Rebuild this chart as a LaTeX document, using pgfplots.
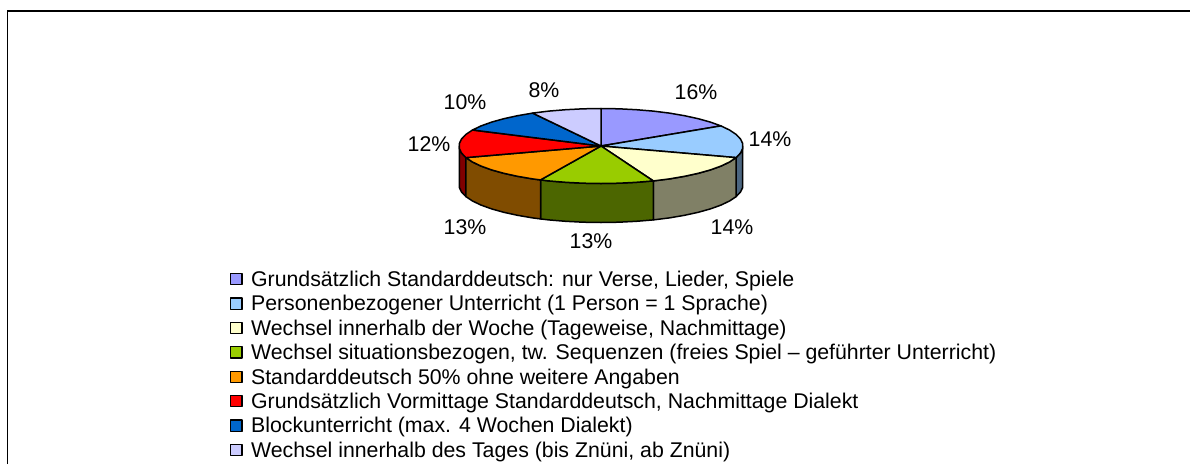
\documentclass[border=0pt]{standalone}
\usepackage{pgfplots}
\usepackage{fontspec}
\setmainfont{Liberation Sans}
\pgfplotsset{compat=1.18}
\definecolor{s1}{HTML}{9999FF}
\definecolor{s2}{HTML}{99CCFF}
\definecolor{s3}{HTML}{FFFFCC}
\definecolor{s4}{HTML}{99CC00}
\definecolor{s5}{HTML}{FF9900}
\definecolor{s6}{HTML}{FF0000}
\definecolor{s7}{HTML}{0066CC}
\definecolor{s8}{HTML}{CCCCFF}
\definecolor{w2}{HTML}{4C6680}
\definecolor{w3}{HTML}{808066}
\definecolor{w4}{HTML}{4C6600}
\definecolor{w5}{HTML}{804C00}
\definecolor{w6}{HTML}{800000}
\pgfplotsset{
  wall/.style={draw=black,line width=1.5pt,line join=round,forget plot},
  pieslice/.style={draw=black,line width=1.5pt,line join=round,fill=#1,
    legend image code/.code={\draw[black,line width=1.2pt,fill=#1] (0pt,-3.6pt) rectangle (11.4pt,7.6pt);}},
}
\begin{document}
\begin{tikzpicture}
\begin{axis}[
  scale only axis,width=1190pt,height=464pt,
  xmin=0,xmax=1190,ymin=0,ymax=464,y dir=reverse,
  axis lines=none,
  /pgf/number format/assume math mode=true,
  legend cell align=left,
  legend style={at={(axis cs:230,269)},anchor=north west,draw=none,fill=none,
    font=\fontsize{21.3}{21.3}\selectfont,inner sep=0pt,outer sep=0pt,
    row sep=0pt,
    nodes={inner xsep=8.5pt,inner ysep=0pt,text height=17.4pt,text depth=7pt}},
]
\path (axis cs:0,0) -- (axis cs:1190,464);
% frame
\addplot[black,line width=1.4pt,forget plot] coordinates {(7.5,464) (7.5,11) (1190,11)};
% side walls
\addplot[wall,fill=w2] coordinates {(742.7,146) (742.7,148.4) (740.5,153.0) (736.1,157.6) (736.1,196.6) (740.5,192.0) (742.7,187.4) (742.7,185)} -- cycle;
\addplot[wall,fill=w6] coordinates {(459.3,146) (459.3,148.4) (461.5,153.0) (465.9,157.6) (465.9,196.6) (461.5,192.0) (459.3,187.4) (459.3,185)} -- cycle;
\addplot[wall,fill=w3] coordinates {(736.1,157.6) (729.5,162.0) (720.9,166.1) (710.4,169.9) (698.2,173.3) (684.5,176.3) (669.4,178.9) (653.3,180.9) (653.3,219.9) (669.4,217.9) (684.5,215.3) (698.2,212.3) (710.4,208.9) (720.9,205.1) (729.5,201.0) (736.1,196.6)} -- cycle;
\addplot[wall,fill=w4] coordinates {(653.3,180.9) (636.3,182.3) (618.8,183.2) (601,183.5) (583.2,183.2) (565.7,182.3) (548.7,180.9) (540.5,179.9) (540.5,218.9) (548.7,219.9) (565.7,221.3) (583.2,222.2) (601,222.5) (618.8,222.2) (636.3,221.3) (653.3,219.9)} -- cycle;
\addplot[wall,fill=w5] coordinates {(540.5,179.9) (532.6,178.9) (517.5,176.3) (503.8,173.3) (491.6,169.9) (481.1,166.1) (472.5,162.0) (465.9,157.6) (465.9,196.6) (472.5,201.0) (481.1,205.1) (491.6,208.9) (503.8,212.3) (517.5,215.3) (532.6,217.9) (540.5,218.9)} -- cycle;
% top face
\addplot[pieslice=s1] coordinates {(601,146) (601,108.5) (618.8,108.8) (636.3,109.7) (653.3,111.1) (669.4,113.1) (684.5,115.7) (698.2,118.7) (710.4,122.1) (720.9,125.9)} -- cycle;
\addlegendentry{Grundsätzlich Standarddeutsch: nur Verse, Lieder, Spiele}
\addplot[pieslice=s2] coordinates {(601,146) (720.9,125.9) (729.5,130.0) (736.1,134.4) (740.5,139.0) (742.7,143.6) (742.7,148.4) (740.5,153.0) (736.1,157.6)} -- cycle;
\addlegendentry{Personenbezogener Unterricht (1 Person = 1 Sprache)}
\addplot[pieslice=s3] coordinates {(601,146) (736.1,157.6) (729.5,162.0) (720.9,166.1) (710.4,169.9) (698.2,173.3) (684.5,176.3) (669.4,178.9) (653.3,180.9)} -- cycle;
\addlegendentry{Wechsel innerhalb der Woche (Tageweise, Nachmittage)}
\addplot[pieslice=s4] coordinates {(601,146) (653.3,180.9) (636.3,182.3) (618.8,183.2) (601,183.5) (583.2,183.2) (565.7,182.3) (548.7,180.9) (540.5,179.9)} -- cycle;
\addlegendentry{Wechsel situationsbezogen, tw. Sequenzen (freies Spiel – geführter Unterricht)}
\addplot[pieslice=s5] coordinates {(601,146) (540.5,179.9) (532.6,178.9) (517.5,176.3) (503.8,173.3) (491.6,169.9) (481.1,166.1) (472.5,162.0) (465.9,157.6)} -- cycle;
\addlegendentry{Standarddeutsch 50\% ohne weitere Angaben}
\addplot[pieslice=s6] coordinates {(601,146) (465.9,157.6) (461.5,153.0) (459.3,148.4) (459.3,143.6) (461.5,139.0) (465.9,134.4) (472.5,130.0)} -- cycle;
\addlegendentry{Grundsätzlich Vormittage Standarddeutsch, Nachmittage Dialekt}
\addplot[pieslice=s7] coordinates {(601,146) (472.5,130.0) (481.1,125.9) (491.6,122.1) (503.8,118.7) (517.5,115.7) (532.6,113.1)} -- cycle;
\addlegendentry{Blockunterricht (max. 4 Wochen Dialekt)}
\addplot[pieslice=s8] coordinates {(601,146) (532.6,113.1) (548.7,111.1) (565.7,109.7) (583.2,108.8) (601,108.5)} -- cycle;
\addlegendentry{Wechsel innerhalb des Tages (bis Znüni, ab Znüni)}
% percentage labels
\addplot[draw=none,mark=none,forget plot,
  nodes near coords={\pgfmathprintnumber{\pgfplotspointmeta}\%},
  nodes near coords style={anchor=center,font=\fontsize{21.3}{21.3}\selectfont,text=black,
    /pgf/number format/assume math mode=true},
  point meta=explicit] table[x=x,y=y,meta=p] {
x y p
696 92 16
770 139 14
732 227 14
591 241 13
465 227 13
429 144 12
465 102 10
544 90 8
};
\end{axis}
\end{tikzpicture}
\end{document}
